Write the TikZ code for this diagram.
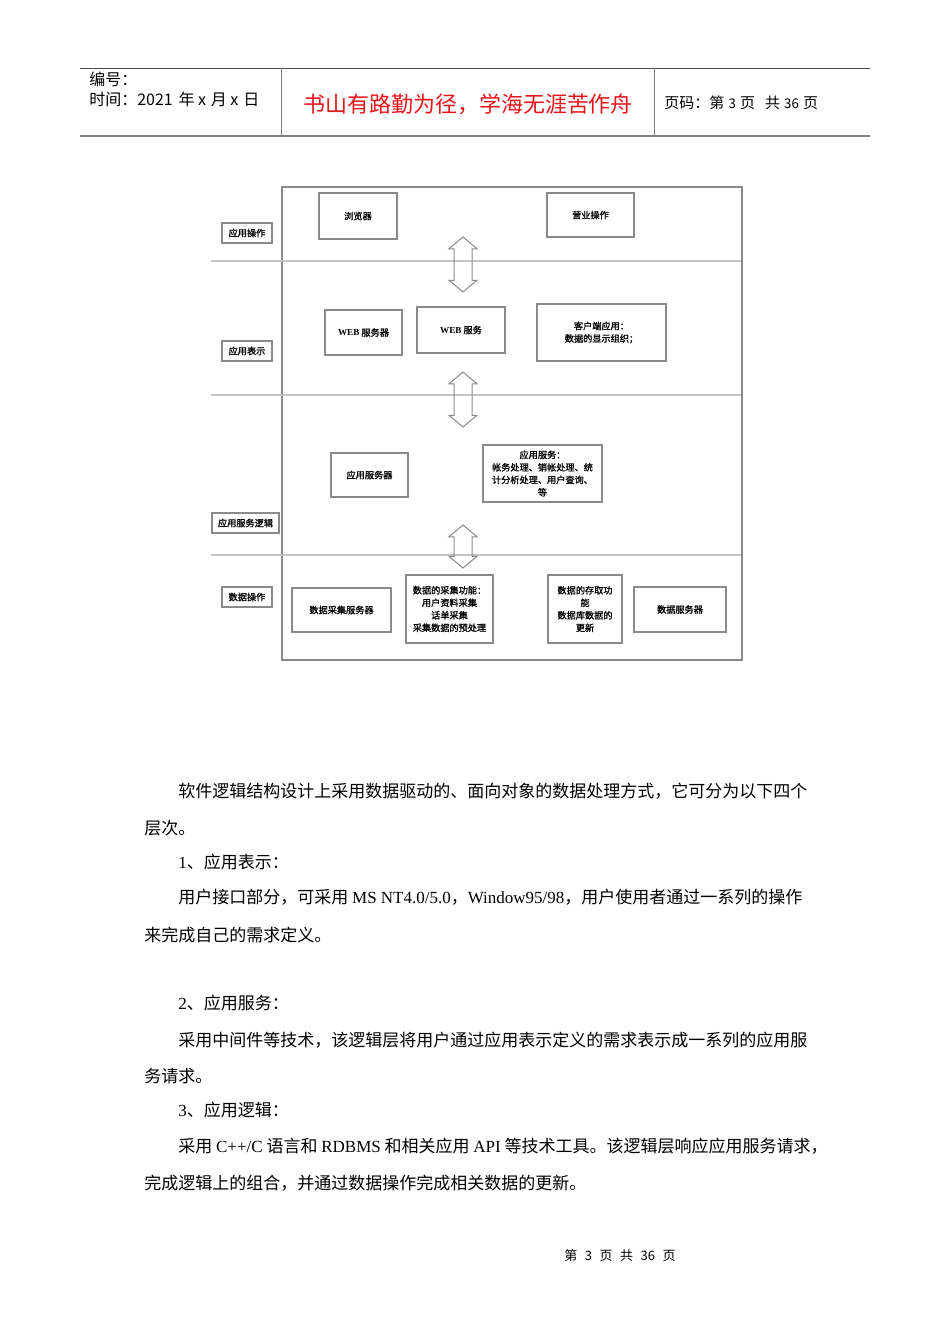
\documentclass[tikz,border=0pt]{standalone}
\usepackage{fontspec}
\setmainfont{Liberation Serif}
\newfontfamily\cjk{Noto Sans CJK SC}
\newfontfamily\cjkb[FakeBold=1.3]{Noto Sans CJK SC}
\usetikzlibrary{shapes.arrows}
\definecolor{framegray}{HTML}{8A8A8A}
\definecolor{rulegray}{HTML}{C4C4C4}
\definecolor{titlered}{HTML}{E8141A}
\newcommand{\lat}[1]{{\rmfamily #1}}
\newcommand{\gap}[1]{\hspace{#1pt}}

\begin{document}
\begin{tikzpicture}[x=0.6pt, y=-0.6pt,
        wh/.style 2 args={minimum width=#1*0.6pt, minimum height=#2*0.6pt},
        box/.style={draw=framegray, line width=0.7pt, inner sep=0pt,
        align=center, font=\fontsize{5.5}{7.5}\cjkb},
        updown/.style={double arrow, draw=framegray, line width=0.6pt,
        rotate=90, inner xsep=0pt, inner ysep=5.1pt, minimum width=16.2pt,
        double arrow head extend=3pt, double arrow tip angle=100,
        minimum height=#1*0.6pt},
        body/.style={anchor=west, inner sep=0pt, font=\fontsize{10.2}{12}\cjk},
        head/.style={anchor=west, inner sep=0pt, font=\fontsize{9.6}{11}\cjk}]

        \useasboundingbox (0,0) rectangle (950,1344);

        % page header
        \draw [line width=0.6pt, black!70] (80,68) -- (870,68);
        \draw [line width=1.3pt, gray] (80,136) -- (870,136);
        \draw [line width=0.6pt, gray] (281,68) -- (281,136) (654,68) -- (654,136);

        \node [head] (num) at (89,79) {编号：};
        \node [head] (date) at (89,99)
        {时间：2021\gap{3.5}年\gap{2}x\gap{3}月\gap{2}x\gap{3}日};
        \node [inner sep=0pt, text=titlered, font=\fontsize{13.2}{15}\cjk]
        (motto) at (468,104) {书山有路勤为径，学海无涯苦作舟};
        \node [head, font=\fontsize{9}{11}\cjk] (pageno) at (664,103)
        {页码：第\gap{2.5}{\fontsize{8}{10}\selectfont 3}\gap{2.5}页\gap{6}共\gap{2.5}{\fontsize{8}{10}\selectfont 36}\gap{2.5}页};

        % layered structure
        \draw [framegray, line width=0.7pt] (282,187) rectangle (742,660);
        \draw [rulegray, line width=0.7pt] (211,261) -- (741,261)
        (211,395) -- (741,395) (211,555) -- (741,555);

        \node [box, wh={50}{20}] (opL) at (247,233) {应用操作};
        \node [box, wh={50}{20}] (showL) at (247,351) {应用表示};
        \node [box, wh={67}{20}] (logicL) at (245.5,523) {应用服务逻辑};
        \node [box, wh={50}{20}] (dataL) at (247,597) {数据操作};

        \node [box, wh={78}{46}] (browser) at (358,216) {浏览器};
        \node [box, wh={87}{44}] (bizop) at (590.5,215) {营业操作};

        \node [box, wh={77}{45}] (websrv) at (363.5,332.5) {\lat{\bfseries WEB} 服务器};
        \node [box, wh={88}{46}] (websvc) at (461,330) {\lat{\bfseries WEB} 服务};
        \node [box, wh={129}{57}] (client) at (601.5,332.5)
        {客户端应用：\\数据的显示组织；};

        \node [box, wh={77}{44}] (appsrv) at (369.5,475) {应用服务器};
        \node [box, wh={119}{57}] (appsvc) at (542.5,473.5)
        {应用服务：\\帐务处理、销帐处理、统\\计分析处理、用户查询、\\等};

        \node [box, wh={99}{44}] (dcsrv) at (341.5,610) {数据采集服务器};
        \node [box, wh={87}{68}] (dcfun) at (449.5,609)
        {数据的采集功能：\\用户资料采集\\话单采集\\采集数据的预处理};
        \node [box, wh={74}{68}] (dafun) at (585,609)
        {数据的存取功\\能\\数据库数据的\\更新};
        \node [box, wh={92}{45}] (dbsrv) at (680,609.5) {数据服务器};

        \node [updown=55] (arrA) at (463,264.5) {};
        \node [updown=55] (arrB) at (463,399.5) {};
        \node [updown=43] (arrC) at (463,546.5) {};

        % text below
        \node [body] (p1) at (178,791)
        {软件逻辑结构设计上采用数据驱动的、面向对象的数据处理方式，它可分为以下四个};
        \node [body] (p1b) at (144,828) {层次。};
        \node [body] (h1) at (178,862) {\lat{1}、应用表示：};
        \node [body] (p2) at (178,897)
        {用户接口部分，可采用 \lat{MS NT4.0/5.0}，\lat{Window95/98}，用户使用者通过一系列的操作};
        \node [body] (p2b) at (144,935) {来完成自己的需求定义。};
        \node [body] (h2) at (178,1003) {\lat{2}、应用服务：};
        \node [body] (p3) at (178,1040)
        {采用中间件等技术，该逻辑层将用户通过应用表示定义的需求表示成一系列的应用服};
        \node [body] (p3b) at (144,1076) {务请求。};
        \node [body] (h3) at (178,1110) {\lat{3}、应用逻辑：};
        \node [body] (p4) at (178,1146)
        {采用 \lat{C++/C} 语言和 \lat{RDBMS} 和相关应用 \lat{API} 等技术工具。该逻辑层响应应用服务请求，};
        \node [body] (p4b) at (144,1183) {完成逻辑上的组合，并通过数据操作完成相关数据的更新。};

        \node [inner sep=0pt, font=\fontsize{7.8}{9}\cjk] (foot) at (620,1256)
        {第\gap{4.5}3\gap{4.5}页\gap{4.5}共\gap{4.5}36\gap{4.5}页};
\end{tikzpicture}
\end{document}
